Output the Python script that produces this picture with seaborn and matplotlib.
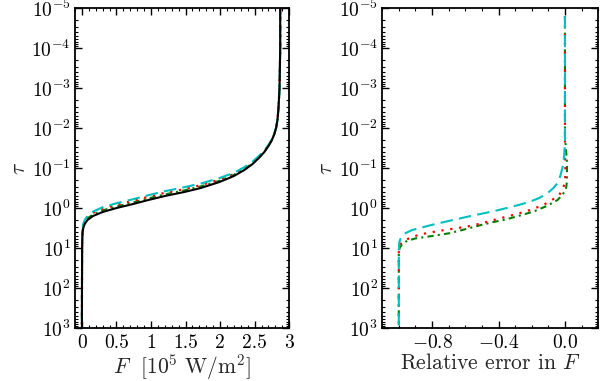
import matplotlib
import numpy as np
import pandas as pd
import seaborn as sns

matplotlib.use("Agg")
import matplotlib.pyplot as plt
from matplotlib.ticker import MultipleLocator, LogLocator, NullFormatter

# flux [1e5 W/m2], shared by the four curves
flux = [2.87, 2.87, 2.86, 2.845, 2.83, 2.81, 2.785, 2.75, 2.70, 2.64, 2.56, 2.47, 2.35, 2.20, 1.99, 1.72,
        1.48, 1.20, 0.96, 0.74, 0.50, 0.30, 0.16, 0.08, 0.04, 0.02, 0.01, 0.005, 0.003, 0.002, 0.001, 0.0]
# log10(tau) where each curve reaches those flux values
ref_logtau = [-5, -4, -3, -2.5, -2.2, -2.0, -1.85, -1.7, -1.55, -1.4, -1.25, -1.1, -0.95, -0.8, -0.65, -0.5,
              -0.4, -0.3, -0.2, -0.1, 0.0, 0.1, 0.2, 0.3, 0.4, 0.5, 0.6, 0.8, 1.0, 1.5, 2.0, 3.0]
green_logtau = [-5, -4, -3, -2.5, -2.2, -2.0, -1.85, -1.7, -1.55, -1.41, -1.26, -1.12, -0.97, -0.83, -0.68, -0.54,
                -0.44, -0.34, -0.24, -0.14, -0.04, 0.06, 0.16, 0.26, 0.36, 0.46, 0.56, 0.76, 1.0, 1.5, 2.0, 3.0]
red_logtau = [-5, -4, -3, -2.5, -2.2, -2.0, -1.85, -1.71, -1.56, -1.42, -1.27, -1.13, -0.99, -0.85, -0.71, -0.57,
              -0.47, -0.38, -0.28, -0.18, -0.08, 0.02, 0.12, 0.22, 0.32, 0.42, 0.52, 0.72, 1.0, 1.5, 2.0, 3.0]
cyan_logtau = [-5, -4, -3, -2.5, -2.2, -2.0, -1.86, -1.72, -1.58, -1.44, -1.3, -1.16, -1.02, -0.88, -0.75, -0.61,
               -0.52, -0.42, -0.32, -0.22, -0.12, -0.02, 0.09, 0.2, 0.3, 0.4, 0.5, 0.7, 1.0, 1.5, 2.0, 3.0]

# relative error in F, right panel
err_green_logtau = [-4.8, -1.8, -1.53, -1.15, -0.78, -0.6, -0.47, -0.33, -0.2, -0.05, 0.09, 0.18, 0.28, 0.35,
                    0.43, 0.53, 0.63, 0.7, 0.76, 0.82, 0.9, 1.0, 1.1, 3.0]
err_green = [0.0, 0.0, 0.005, 0.012, 0.012, 0.01, 0.006, -0.015, -0.045, -0.11, -0.19, -0.265, -0.35, -0.43,
             -0.51, -0.6, -0.695, -0.8, -0.9, -0.95, -0.98, -0.995, -1.0, -1.0]

err_red_logtau = [-4.8, -1.4, -0.9, -0.65, -0.45, -0.33, -0.24, -0.14, -0.05, 0.05, 0.15, 0.22, 0.3, 0.38,
                  0.45, 0.51, 0.57, 0.65, 0.72, 0.8, 0.9, 1.05, 3.0]
err_red = [0.0, 0.0, 0.003, 0.0, -0.014, -0.035, -0.065, -0.1, -0.146, -0.21, -0.29, -0.355, -0.43, -0.5,
           -0.573, -0.66, -0.756, -0.86, -0.92, -0.96, -0.99, -1.0, -1.0]

err_cyan_logtau = [-4.8, -1.6, -1.3, -1.03, -0.8, -0.62, -0.5, -0.37, -0.25, -0.16, -0.08, 0.0, 0.08, 0.15,
                   0.22, 0.3, 0.42, 0.55, 0.63, 0.72, 0.85, 1.05, 3.0]
err_cyan = [0.0, 0.0, -0.005, -0.014, -0.028, -0.045, -0.07, -0.105, -0.155, -0.21, -0.275, -0.35, -0.43, -0.51,
            -0.59, -0.675, -0.8, -0.92, -0.96, -0.985, -0.997, -1.0, -1.0]

GREEN = "#008000"
RED = "#ff0000"
CYAN = "#00bfbf"


def configure_plot_style() -> None:
    sns.set_theme(style="ticks")
    plt.rcParams.update({
        "font.family": ["cmr10", "DejaVu Serif"],
        "mathtext.fontset": "cm",
        "axes.formatter.use_mathtext": True,
        "axes.unicode_minus": True,
        "font.size": 14,
        "axes.labelsize": 15.5,
        "xtick.labelsize": 14,
        "ytick.labelsize": 14,
        "axes.linewidth": 1.3,
        "axes.edgecolor": "black",
        "xtick.direction": "in",
        "ytick.direction": "in",
        "xtick.top": True,
        "ytick.right": True,
        "xtick.major.size": 5,
        "ytick.major.size": 5,
        "xtick.minor.size": 2.5,
        "ytick.minor.size": 2.5,
        "xtick.major.width": 1.0,
        "ytick.major.width": 1.0,
        "xtick.minor.width": 0.8,
        "ytick.minor.width": 0.8,
        "xtick.color": "black",
        "ytick.color": "black",
        "xtick.major.pad": 4,
        "ytick.major.pad": 3,
    })


def draw(ax, logtau, vals, color, ls, lw):
    df = pd.DataFrame({"x": vals, "tau": np.power(10.0, logtau)})
    sns.lineplot(data=df, x="x", y="tau", sort=False, estimator=None,
                 color=color, linestyle=ls, linewidth=lw, ax=ax)


def style_tau_axis(ax) -> None:
    ax.set_yscale("log")
    ax.set_ylim(1e3, 1e-5)
    ax.yaxis.set_major_locator(LogLocator(base=10, numticks=20))
    ax.yaxis.set_minor_locator(LogLocator(base=10, subs=np.arange(2, 10), numticks=20))
    ax.yaxis.set_minor_formatter(NullFormatter())
    ax.set_ylabel(r"$\tau$", labelpad=2)
    ax.tick_params(which="both", top=True, right=True)


def main() -> None:
    configure_plot_style()
    fig = plt.figure(figsize=(6.0, 3.81), dpi=100)
    ax1 = fig.add_axes([0.125, 0.139, 0.357, 0.840])
    ax2 = fig.add_axes([0.637, 0.139, 0.360, 0.840])

    draw(ax1, green_logtau, flux, GREEN, (0, (3, 2, 1, 2)), 1.5)
    draw(ax1, red_logtau, flux, RED, (0, (1, 3)), 1.6)
    draw(ax1, cyan_logtau, flux, CYAN, (0, (6, 3)), 1.5)
    draw(ax1, ref_logtau, flux, "black", "-", 1.5)

    ax1.set_xlim(-0.1, 3.0)
    ax1.xaxis.set_minor_locator(MultipleLocator(0.1))
    ax1.set_xticks([0, 0.5, 1, 1.5, 2, 2.5, 3])
    ax1.set_xticklabels(["0", "0.5", "1", "1.5", "2", "2.5", "3"])
    ax1.set_xlabel(r"$F\ $ [$10^5$ W/m$^2$]", labelpad=1)
    style_tau_axis(ax1)

    draw(ax2, err_green_logtau, err_green, GREEN, (0, (3, 2, 1, 2)), 1.5)
    draw(ax2, err_red_logtau, err_red, RED, (0, (1, 3)), 1.6)
    draw(ax2, err_cyan_logtau, err_cyan, CYAN, (0, (6, 3)), 1.5)

    ax2.set_xlim(-1.1, 0.2)
    ax2.xaxis.set_major_locator(MultipleLocator(0.4))
    ax2.xaxis.set_minor_locator(MultipleLocator(0.1))
    ax2.set_xlabel(r"Relative error in $F$", labelpad=1)
    style_tau_axis(ax2)

    fig.savefig("out.png", dpi=100)
    plt.close(fig)


if __name__ == "__main__":
    main()
